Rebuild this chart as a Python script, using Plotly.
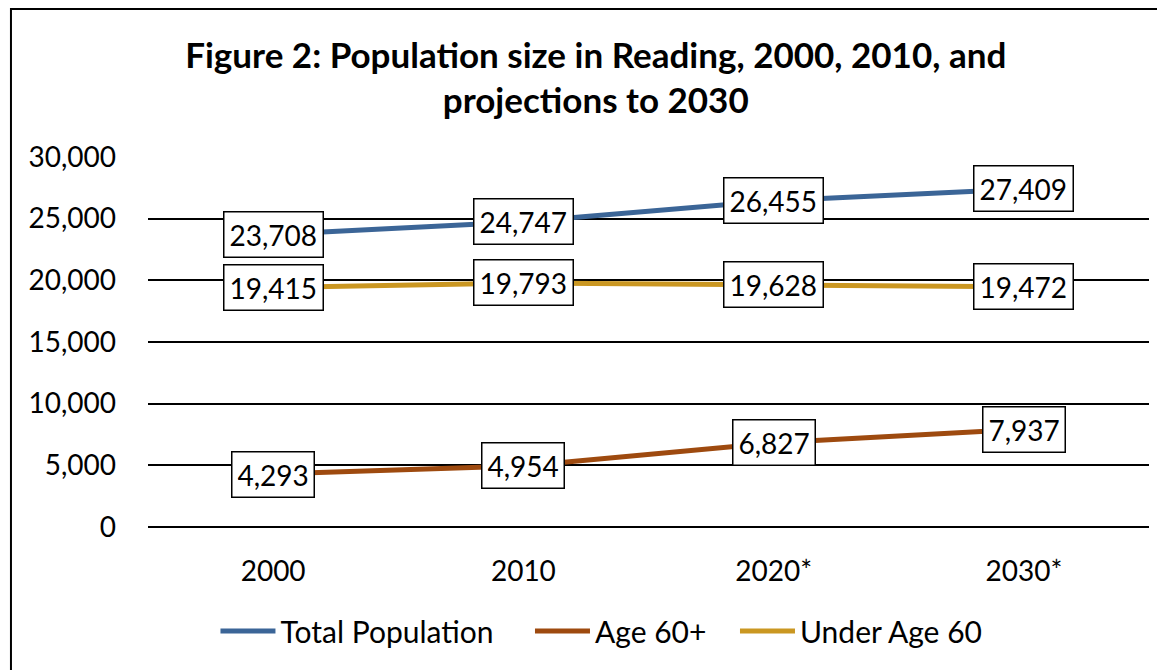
import plotly.graph_objects as go

years = ["2000", "2010", "2020*", "2030*"]
total_population = [23708, 24747, 26455, 27409]
age_60_plus = [4293, 4954, 6827, 7937]
under_age_60 = [19415, 19793, 19628, 19472]
y_ticks = [0, 5000, 10000, 15000, 20000, 25000, 30000]

series = [
    ("Total Population", total_population, "#3B6597", "legend", 0.0674),
    ("Age 60+", age_60_plus, "#9E4A0F", "legend2", 0.3816),
    ("Under Age 60", under_age_60, "#CA9722", "legend3", 0.5864),
]

FONT = "Lato"
fig = go.Figure()
for name, vals, color, lg, lx in series:
    fig.add_trace(go.Scatter(x=years, y=vals, name=name, mode="lines", legend=lg,
                             line=dict(color=color, width=5)))

for name, vals, color, lg, lx in series:
    for i, v in enumerate(vals):
        fig.add_annotation(x=i, y=v, xref="x", yref="y", text=f"{v:,}",
                           showarrow=False, bgcolor="white", bordercolor="black",
                           borderwidth=1.5, borderpad=5, height=34,
                           font=dict(family=FONT, size=28, color="black"))

# outer frame
fig.add_shape(type="rect", xref="paper", yref="paper",
              x0=-0.1369, x1=1.2, y0=-0.6, y1=1.4,
              line=dict(color="black", width=2), fillcolor="rgba(0,0,0,0)",
              layer="above")

legend_style = dict(orientation="h", xanchor="left", y=-0.281, yanchor="middle",
                    font=dict(family=FONT, size=30, color="black"), itemwidth=55,
                    bgcolor="rgba(0,0,0,0)", borderwidth=0)

fig.update_layout(
    width=1157, height=662,
    margin=dict(l=140, r=16, t=149, b=143),
    paper_bgcolor="white", plot_bgcolor="white",
    title=dict(text="<b>Figure 2: Population size in Reading, 2000, 2010, and<br>projections to 2030</b>",
               xref="container", x=0.508, xanchor="center",
               yref="container", y=0.910, yanchor="middle",
               font=dict(family=FONT, size=35, color="black")),
    font=dict(family=FONT, size=28, color="black"),
    showlegend=True,
    legend=dict(x=series[0][4], **legend_style),
    legend2=dict(x=series[1][4], **legend_style),
    legend3=dict(x=series[2][4], **legend_style),
    xaxis=dict(type="category", range=[-0.5, 3.5], showgrid=False, showline=False,
               zeroline=False, ticks="", ticklabelstandoff=25,
               tickfont=dict(family=FONT, size=28, color="black")),
    yaxis=dict(range=[0, 30000], tickvals=y_ticks, tickformat=",", showgrid=True,
               gridcolor="black", gridwidth=2, zeroline=True, zerolinecolor="black",
               zerolinewidth=2, showline=False, ticks="", ticklabelstandoff=31,
               tickfont=dict(family=FONT, size=28, color="black")),
)

fig.write_html("out.html")
